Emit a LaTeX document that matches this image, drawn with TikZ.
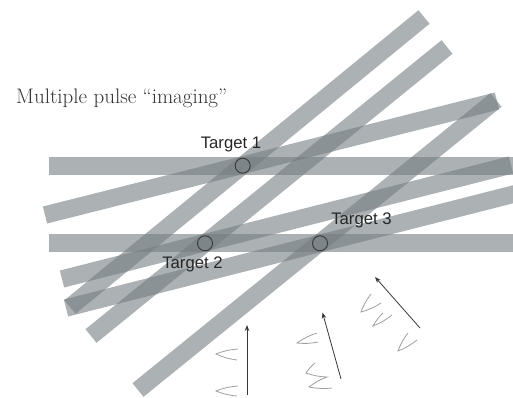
\documentclass[tikz,border=0pt]{standalone}
\usepackage{fontspec}
\newfontfamily\labelfont{Liberation Sans}
\usetikzlibrary{arrows.meta}

\definecolor{bandgray}{RGB}{116,125,129}
\definecolor{inkgray}{RGB}{55,55,55}
\definecolor{pulsegray}{RGB}{160,160,160}

\begin{document}
\begin{tikzpicture}[
    x=1pt, y=-1pt,
    band/.style={line width=17.5pt, draw=bandgray, draw opacity=0.6},
    target/.style={draw=inkgray, circle, minimum size=15pt, inner sep=0pt, line width=0.9pt},
    tlabel/.style={font=\labelfont\fontsize{16.7}{20}\selectfont, text=black!85, anchor=base, inner sep=0pt},
    arr/.style={-{Stealth[length=6pt, width=4.5pt]}, draw=inkgray, line width=0.8pt},
    pulse/.style={draw=pulsegray, line width=0.8pt},
]
\useasboundingbox (0,0) rectangle (513,398);
\clip (0,0) rectangle (513,398);

% Title
\node[font=\fontsize{21}{25}\selectfont, text=black!80, anchor=base west, inner sep=0pt] (title) at (16,104) {Multiple pulse ``imaging''};

% Band end points
\coordinate (h1w) at (49,166);  \coordinate (h1e) at (520,166);
\coordinate (h2w) at (49,243);  \coordinate (h2e) at (520,243);
\coordinate (sAw) at (70,307);  \coordinate (sAe) at (424,17);
\coordinate (sBw) at (91,336);  \coordinate (sBe) at (447,47);
\coordinate (sCw) at (138,390); \coordinate (sCe) at (496,100);
\coordinate (fDw) at (45,215);  \coordinate (fDe) at (497,101);
\coordinate (fEw) at (62,279);  \coordinate (fEe) at (511,165);
\coordinate (fFw) at (66,308);  \coordinate (fFe) at (530,190);

% Horizontal bands
\draw[band] (h1w) -- (h1e);
\draw[band] (h2w) -- (h2e);
% Steep bands
\draw[band] (sAw) -- (sAe);
\draw[band] (sBw) -- (sBe);
\draw[band] (sCw) -- (sCe);
% Shallow bands
\draw[band] (fDw) -- (fDe);
\draw[band] (fEw) -- (fEe);
\draw[band] (fFw) -- (fFe);

% Targets
\node[target] (t1) at (242.7,165.7) {};
\node[target] (t2) at (205,243.3) {};
\node[target] (t3) at (320,243.3) {};
\node[tlabel] (l1) at (231,149) {Target 1};
\node[tlabel] (l2) at (192.5,268) {Target 2};
\node[tlabel] (l3) at (361.5,224) {Target 3};

% Incoming pulses
\coordinate (a1s) at (247,395);   \coordinate (a1t) at (247,325);
\coordinate (a2s) at (341,379);   \coordinate (a2t) at (322.5,312.5);
\coordinate (a3s) at (420,328);   \coordinate (a3t) at (375,277);
\draw[arr] (a1s) -- (a1t);
\draw[arr] (a2s) -- (a2t);
\draw[arr] (a3s) -- (a3t);

\draw[pulse] (238,349) to[bend right=8] (216,354) to[bend right=8] (237,360);
\draw[pulse] (238,386) to[bend right=8] (216,391) to[bend right=8] (237,396);
\draw[pulse] (317,333) to[bend right=8] (297,343) to[bend right=8] (318,342);
\draw[pulse] (315,363) to[bend right=8] (306,373) to[bend right=8] (327,377)
    to[bend right=8] (309,387) to[bend right=8] (332,388);
\draw[pulse] (371,294) to[bend right=8] (361,312) to[bend right=8] (381,303);
\draw[pulse] (383,313) to[bend right=8] (373,326) to[bend right=8] (392,315);
\draw[pulse] (408,333) to[bend right=8] (398,351) to[bend right=8] (417,340);
\end{tikzpicture}
\end{document}
